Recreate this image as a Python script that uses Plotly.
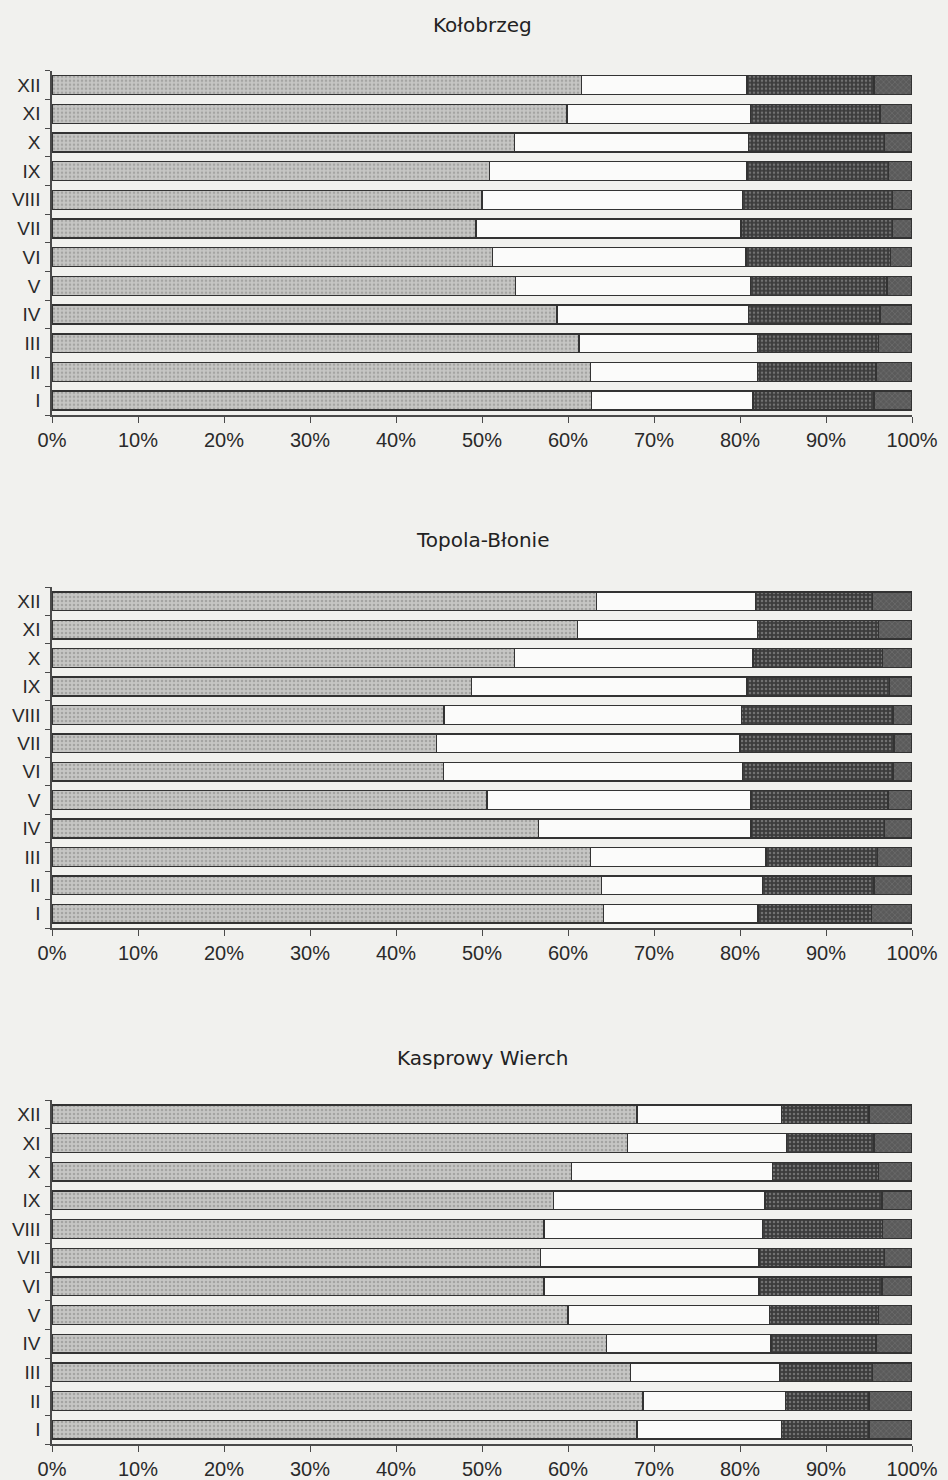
import plotly.graph_objects as go

# Months (Roman numerals), bottom to top
months = ["I", "II", "III", "IV", "V", "VI", "VII", "VIII", "IX", "X", "XI", "XII"]

# Percentage shares of the four classes per month, for each station
kolobrzeg_s1 = [62.7, 62.6, 61.3, 58.7, 53.9, 51.2, 49.3, 50.0, 50.9, 53.8, 59.9, 61.6]
kolobrzeg_s2 = [18.8, 19.4, 20.7, 22.3, 27.3, 29.5, 30.8, 30.3, 29.9, 27.2, 21.3, 19.2]
kolobrzeg_s3 = [14.1, 13.8, 14.1, 15.3, 15.9, 16.8, 17.6, 17.4, 16.5, 15.8, 15.1, 14.8]
kolobrzeg_s4 = [4.4, 4.2, 3.9, 3.7, 2.9, 2.5, 2.3, 2.3, 2.7, 3.2, 3.7, 4.4]

topola_s1 = [64.1, 63.9, 62.6, 56.6, 50.6, 45.5, 44.7, 45.6, 48.8, 53.8, 61.1, 63.3]
topola_s2 = [18.0, 18.7, 20.4, 24.7, 30.7, 34.8, 35.3, 34.6, 32.0, 27.7, 20.9, 18.5]
topola_s3 = [13.2, 13.0, 13.0, 15.5, 15.9, 17.5, 17.9, 17.6, 16.6, 15.1, 14.1, 13.6]
topola_s4 = [4.7, 4.4, 4.0, 3.2, 2.8, 2.2, 2.1, 2.2, 2.6, 3.4, 3.9, 4.6]

kasprowy_s1 = [68.0, 68.7, 67.3, 64.5, 60.0, 57.2, 56.8, 57.2, 58.3, 60.4, 66.9, 68.0]
kasprowy_s2 = [16.8, 16.6, 17.3, 19.1, 23.4, 25.0, 25.4, 25.4, 24.6, 23.4, 18.5, 16.8]
kasprowy_s3 = [10.2, 9.7, 10.8, 12.2, 12.7, 14.3, 14.6, 14.0, 13.6, 12.3, 10.2, 10.2]
kasprowy_s4 = [5.0, 5.0, 4.6, 4.2, 3.9, 3.5, 3.2, 3.4, 3.5, 3.9, 4.4, 5.0]

stations = [
    ("Kołobrzeg", [kolobrzeg_s1, kolobrzeg_s2, kolobrzeg_s3, kolobrzeg_s4]),
    ("Topola-Błonie", [topola_s1, topola_s2, topola_s3, topola_s4]),
    ("Kasprowy Wierch", [kasprowy_s1, kasprowy_s2, kasprowy_s3, kasprowy_s4]),
]

W, H = 948, 1480
BG = "#f1f1ee"
TICK_FONT = "Liberation Sans, Arial, sans-serif"
TITLE_FONT = "DejaVu Sans, Verdana, sans-serif"
INK = "#2a2a2a"

# Segment fills (background, dot colour, pattern shape, solidity)
fills = [
    dict(bg="#c6c6c4", fg="#a4a4a2", shape=".", sol=0.3),
    dict(bg="#fbfbfa", fg="#fbfbfa", shape="", sol=0.3),
    dict(bg="#3c3c3c", fg="#727272", shape=".", sol=0.3),
    dict(bg="#5a5a5a", fg="#7a7a7a", shape="x", sol=0.2),
]

# Panel vertical extents in pixels (top, bottom of the plotting area) and title row
panels_px = [(70.7, 415.0, 25.0), (587.0, 928.0, 540.0), (1100.0, 1444.0, 1058.0)]


def py(px):
    return 1 - px / H


fig = go.Figure()
annotations = []
for i, ((name, series), (top, bottom, ty)) in enumerate(zip(stations, panels_px)):
    xa = "x" if i == 0 else f"x{i + 1}"
    ya = "y" if i == 0 else f"y{i + 1}"
    for vals, f in zip(series, fills):
        fig.add_trace(go.Bar(
            x=vals, y=months, orientation="h",
            xaxis=xa, yaxis=ya,
            marker=dict(
                color=f["bg"],
                line=dict(color="#333333", width=1.4),
                pattern=dict(shape=f["shape"], fgcolor=f["fg"], bgcolor=f["bg"],
                             size=4, solidity=f["sol"]),
            ),
            showlegend=False, hoverinfo="skip",
        ))
    axis_x = dict(
        domain=[0, 1], range=[0, 100], anchor=ya,
        tickmode="array", tickvals=list(range(0, 101, 10)),
        ticktext=[f"{v}%" for v in range(0, 101, 10)],
        showgrid=False, zeroline=False, showline=True, linecolor="#4a4a4a", linewidth=1.5,
        ticks="outside", ticklen=6, tickcolor="#4a4a4a",
        tickfont=dict(family=TICK_FONT, size=20, color=INK), automargin=False,
    )
    axis_y = dict(
        domain=[py(bottom), py(top)], anchor=xa, type="category",
        categoryorder="array", categoryarray=months, range=[-0.5, 11.5],
        showgrid=False, zeroline=False, showline=True, linecolor="#4a4a4a", linewidth=1.5,
        ticks="outside", ticklen=5, tickcolor="#4a4a4a", tickson="boundaries",
        ticklabelstandoff=6,
        tickfont=dict(family=TICK_FONT, size=19, color=INK), automargin=False,
    )
    fig.layout["xaxis" if i == 0 else f"xaxis{i + 1}"] = axis_x
    fig.layout["yaxis" if i == 0 else f"yaxis{i + 1}"] = axis_y
    annotations.append(dict(
        text=name, x=0.5, y=py(ty), xref="paper", yref="paper",
        xanchor="center", yanchor="middle", showarrow=False,
        font=dict(family=TITLE_FONT, size=20, color="#222222"),
    ))

fig.update_layout(
    width=W, height=H, template="none",
    margin=dict(l=52, r=36, t=0, b=0),
    barmode="stack", bargap=0.34,
    paper_bgcolor=BG, plot_bgcolor=BG,
    annotations=annotations,
)

fig.write_html("out.html")
